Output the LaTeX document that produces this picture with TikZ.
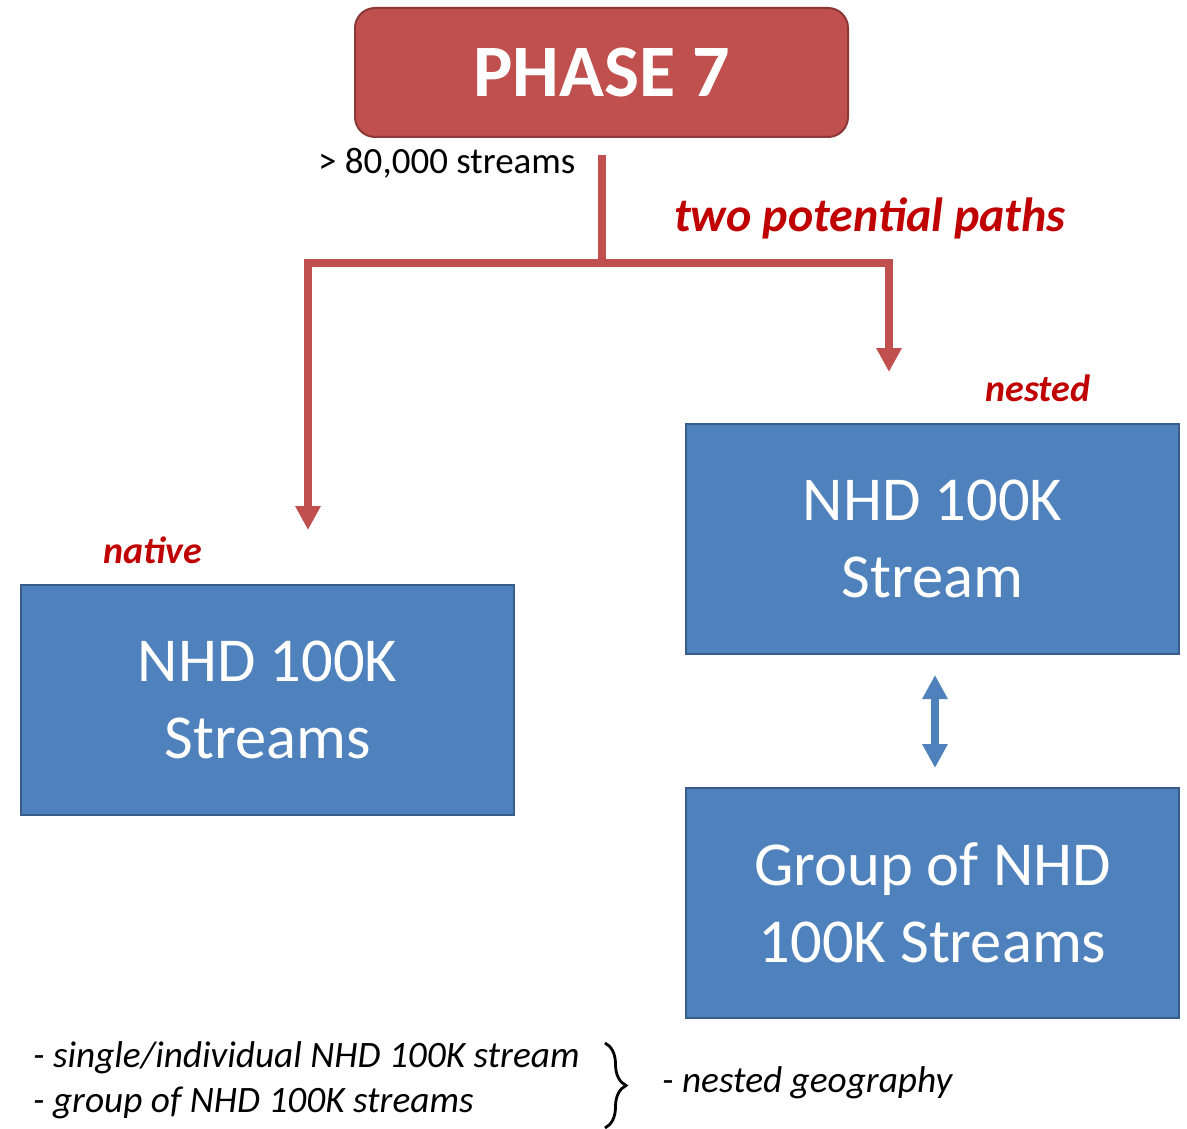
\documentclass[tikz,border=0pt]{standalone}
\usepackage{fontspec}
\setmainfont{Carlito}
\usetikzlibrary{arrows.meta,decorations.pathreplacing}
\definecolor{phasered}{HTML}{C0504D}
\definecolor{phaseborder}{HTML}{8C3836}
\definecolor{labelred}{HTML}{C00000}
\definecolor{boxblue}{HTML}{4F81BD}
\definecolor{boxborder}{HTML}{385D8A}
\tikzset{
  phasebox/.style={draw=phaseborder, line width=2pt, fill=phasered, rounded corners=20pt,
    minimum width=493pt, minimum height=129pt, text=white, font=\fontsize{74}{80}\selectfont\bfseries, inner sep=0pt},
  bluebox/.style={draw=boxborder, line width=2pt, fill=boxblue, minimum width=493pt, minimum height=230pt,
    text=white, align=center, font=\fontsize{62.5}{77}\selectfont, inner sep=0pt},
  redlabel/.style={text=labelred, font=\fontsize{38}{44}\selectfont\bfseries\itshape, inner sep=0pt},
  redline/.style={draw=phasered, line width=8pt},
  redarrow/.style={redline, -{Triangle[width=24pt,length=24pt]}},
  bluearrow/.style={draw=boxblue, line width=8pt, {Triangle[width=24pt,length=24pt]}-{Triangle[width=24pt,length=24pt]}},
  note/.style={font=\fontsize{37.3}{42}\selectfont\itshape, inner sep=0pt},
}
\begin{document}
\begin{tikzpicture}[x=1pt,y=-1pt]
\useasboundingbox (0,0) rectangle (1187,1129);
\node[phasebox] (phase) at (601.5,72.5) {PHASE 7};
\node[font=\fontsize{37}{42}\selectfont, anchor=base west, inner sep=0pt] (count) at (318,174) {> 80,000 streams};
\node[redlabel, font=\fontsize{48}{54}\selectfont\bfseries\itshape, anchor=base] (paths) at (870,231) {two potential paths};
\node[redlabel, anchor=base] (nestedlbl) at (1038,401) {nested};
\node[redlabel, anchor=base] (nativelbl) at (152.5,563) {native};
\node[bluebox] (native) at (267.5,700) {NHD 100K\\Streams};
\node[bluebox] (nested) at (932.5,538.5) {NHD 100K\\Stream};
\node[bluebox] (group) at (932.5,903) {Group of NHD\\100K Streams};
\coordinate (start) at (602,155);
\coordinate (junc) at (602,263);
\coordinate (ltip) at (308,530);
\coordinate (rtip) at (889,372);
\draw[redline] (start) -- (junc);
\draw[redarrow] (junc) -| (ltip);
\draw[redarrow] (junc) -| (rtip);
\coordinate (btop) at (935,675);
\coordinate (bbot) at (935,768);
\draw[bluearrow] (btop) -- (bbot);
\node[note, anchor=base west] (n1) at (33,1067) {- single/individual NHD 100K stream};
\node[note, anchor=base west] (n2) at (33,1112) {- group of NHD 100K streams};
\coordinate (bracetop) at (605,1043);
\coordinate (bracebot) at (605,1128);
\draw[line width=2.8pt, decorate, decoration={brace, amplitude=21pt}] (bracetop) -- (bracebot);
\node[note, anchor=base west] (geo) at (662,1092) {- nested geography};
\end{tikzpicture}
\end{document}
